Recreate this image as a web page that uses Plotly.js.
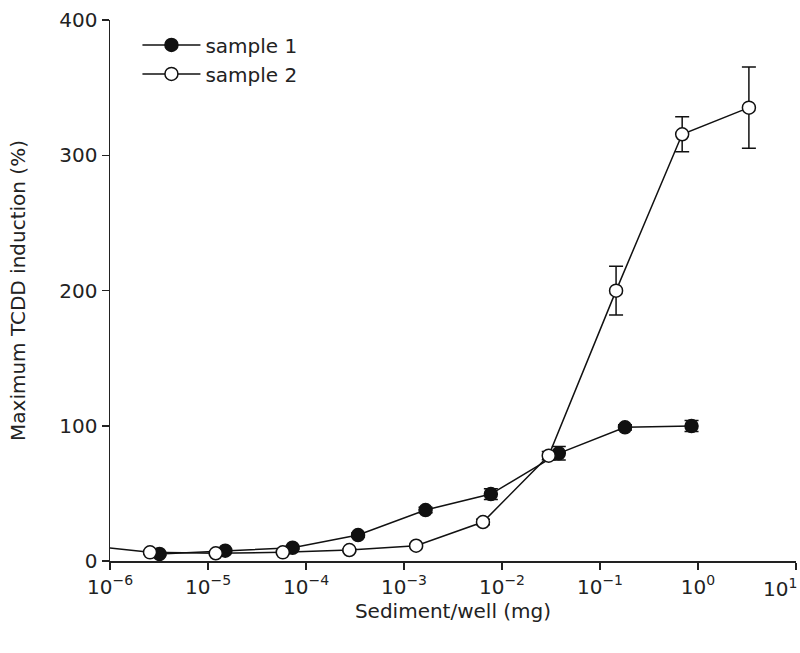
<!DOCTYPE html>
<html>
<head>
<meta charset="utf-8">
<script src="https://cdn.plot.ly/plotly-3.0.1.min.js"></script>
<style>
  body { margin: 0; background: #fff; }
  #chart { width: 800px; height: 653px; }
</style>
</head>
<body>
<div id="chart"></div>
<script>
// sample 1 (filled circles)
var dose1 = [3.2e-6, 1.5e-5, 7.3e-5, 3.4e-4, 1.66e-3, 7.7e-3, 3.8e-2, 0.18, 0.86];
var resp1 = [5.2, 7.6, 9.8, 19.2, 37.7, 49.5, 79.6, 98.8, 99.8];
var err1 = [1, 1, 1, 1.5, 2, 4, 5, 2, 4];

// sample 2 (open circles)
var dose2 = [5e-7, 2.56e-6, 1.2e-5, 5.8e-5, 2.77e-4, 1.33e-3, 6.4e-3, 3.0e-2, 0.146, 0.69, 3.31];
var resp2 = [12, 6.4, 5.7, 6.4, 8.1, 11.3, 28.8, 77.9, 199.9, 315.5, 335.2];
var err2 = [0, 1, 1, 1, 1, 1, 2, 3, 18, 13, 30];

// the last decade label sits at the right edge, so it is placed as an annotation
var tickVals = [1e-6, 1e-5, 1e-4, 1e-3, 1e-2, 1e-1, 1, 10];
var tickText = ['10<sup>−6</sup>', '10<sup>−5</sup>', '10<sup>−4</sup>', '10<sup>−3</sup>',
                '10<sup>−2</sup>', '10<sup>−1</sup>', '10<sup>0</sup>', ''];
var lastTickText = '10<sup>1</sup>';

var trace1 = {
  x: dose1, y: resp1, name: 'sample 1',
  type: 'scatter', mode: 'lines+markers',
  line: {color: '#111', width: 1.5},
  marker: {symbol: 'circle', size: 13, color: '#111', line: {color: '#111', width: 1.5}},
  error_y: {type: 'data', array: err1, visible: true, color: '#111', thickness: 1.5, width: 7}
};

var trace2 = {
  x: dose2, y: resp2, name: 'sample 2',
  type: 'scatter', mode: 'lines+markers',
  line: {color: '#111', width: 1.5},
  marker: {symbol: 'circle', size: 13, color: '#fff', line: {color: '#111', width: 1.5}},
  error_y: {type: 'data', array: err2, visible: true, color: '#111', thickness: 1.5, width: 7}
};

var layout = {
  width: 800, height: 653,
  margin: {l: 110, r: 4, t: 20, b: 92},
  paper_bgcolor: '#fff', plot_bgcolor: '#fff',
  font: {family: 'DejaVu Sans, sans-serif', size: 19, color: '#222'},
  showlegend: true,
  legend: {x: 0.04, y: 0.99, xanchor: 'left', yanchor: 'top', bgcolor: 'rgba(0,0,0,0)',
           font: {size: 20}, itemwidth: 58, tracegroupgap: 0},
  xaxis: {
    type: 'log', range: [-6, 1.0005],
    tickvals: tickVals, ticktext: tickText,
    ticks: 'outside', ticklen: 7, tickwidth: 1.5, tickcolor: '#222',
    showline: true, linecolor: '#222', linewidth: 1.5,
    showgrid: false, zeroline: false,
    tickfont: {size: 20},
    title: {text: 'Sediment/well (mg)', font: {size: 20}, standoff: 4}
  },
  yaxis: {
    range: [0, 400], tickvals: [0, 100, 200, 300, 400],
    ticks: 'outside', ticklen: 7, tickwidth: 1.5, tickcolor: '#222',
    showline: true, linecolor: '#222', linewidth: 1.5,
    showgrid: false, zeroline: false,
    tickfont: {size: 20},
    title: {text: 'Maximum TCDD induction (%)', font: {size: 20}, standoff: 28}
  },
  annotations: [{
    xref: 'x', yref: 'paper', x: 1, y: 0, xanchor: 'right', yanchor: 'top',
    xshift: 3, yshift: -12, showarrow: false,
    text: lastTickText, font: {size: 20, color: '#222'}
  }]
};

Plotly.newPlot('chart', [trace1, trace2], layout, {displayModeBar: false, staticPlot: true});
</script>
</body>
</html>
